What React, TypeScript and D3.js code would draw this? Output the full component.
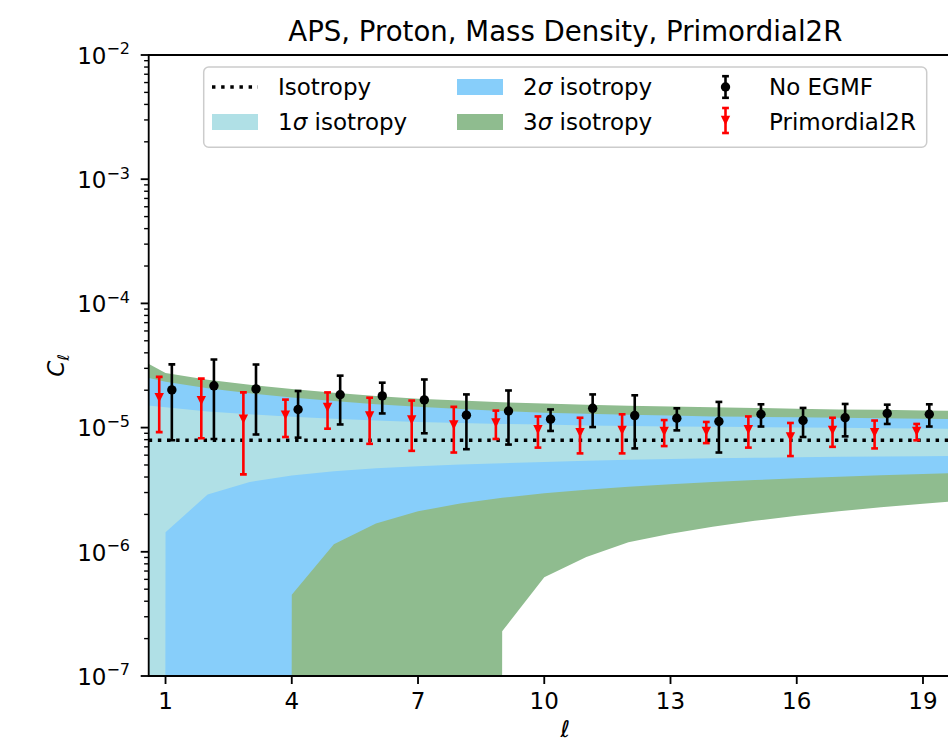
import React from 'react';
import * as d3 from 'd3';

// multipoles of the measured spectra
const ells = [1, 2, 3, 4, 5, 6, 7, 8, 9, 10, 11, 12, 13, 14, 15, 16, 17, 18, 19];

// No EGMF (black), units of 1e-5
const noEgmf = [2.01, 2.17, 2.05, 1.40, 1.84, 1.80, 1.67, 1.26, 1.36, 1.17, 1.43, 1.25, 1.19, 1.12, 1.28, 1.14, 1.20, 1.30, 1.28];
const noEgmfErr = [1.22, 1.36, 1.17, 0.57, 0.78, 0.50, 0.77, 0.59, 0.63, 0.23, 0.42, 0.57, 0.24, 0.49, 0.26, 0.30, 0.35, 0.23, 0.26];

// Primordial2R (red), units of 1e-5
const primordial = [1.74, 1.65, 1.17, 1.26, 1.45, 1.24, 1.15, 1.05, 1.09, 0.96, 0.91, 0.95, 0.93, 0.93, 0.96, 0.84, 0.95, 0.91, 0.93];
const primordialErr = [0.82, 0.83, 0.75, 0.42, 0.47, 0.50, 0.50, 0.42, 0.28, 0.27, 0.29, 0.33, 0.22, 0.18, 0.27, 0.25, 0.25, 0.23, 0.14];

const isotropy = 7.9e-6;

// isotropy bands, l = 0..20
const bandL = [0, 1, 2, 3, 4, 5, 6, 7, 8, 9, 10, 11, 12, 13, 14, 15, 16, 17, 18, 19, 20];
// units of 1e-5
const sigma3Upper = [4.19, 2.75, 2.43, 2.21, 2.05, 1.91, 1.80, 1.71, 1.65, 1.60, 1.56, 1.53, 1.50, 1.48, 1.46, 1.44, 1.42, 1.40, 1.39, 1.37, 1.36];
const sigma2Upper = [2.79, 2.34, 2.07, 1.89, 1.75, 1.64, 1.54, 1.47, 1.41, 1.36, 1.32, 1.29, 1.27, 1.25, 1.23, 1.22, 1.21, 1.20, 1.19, 1.18, 1.17];
const sigma1Upper = [1.57, 1.46, 1.35, 1.28, 1.22, 1.18, 1.14, 1.11, 1.09, 1.07, 1.06, 1.04, 1.03, 1.02, 1.015, 1.01, 1.0, 0.995, 0.99, 0.983, 0.978];
// units of 1e-6 (0 = non-positive, clipped like matplotlib does on a log axis)
const sigma1Lower = [0, 1.44, 2.89, 3.65, 4.11, 4.45, 4.70, 4.88, 5.04, 5.16, 5.28, 5.40, 5.50, 5.60, 5.66, 5.72, 5.77, 5.82, 5.86, 5.89, 5.94];
const sigma2Lower = [0, 0, 0, 0, 0.452, 1.149, 1.687, 2.119, 2.444, 2.721, 2.958, 3.157, 3.337, 3.495, 3.641, 3.778, 3.906, 4.023, 4.129, 4.238, 4.341];
const sigma3Lower = [0, 0, 0, 0, 0, 0, 0, 0, 0, 0.229, 0.623, 0.908, 1.193, 1.396, 1.590, 1.777, 1.949, 2.119, 2.282, 2.434, 2.598];

const xTicks = [1, 4, 7, 10, 13, 16, 19];

const W = 948;
const H = 741;
const left = 148.7;
const right = 981.9;
const top = 55;
const bottom = 676;
const font = 'DejaVu Sans';

const x = d3.scaleLinear().domain([0.6, 20.4]).range([left, right]);
const y = d3.scaleLog().domain([1e-7, 1e-2]).range([bottom, top]);

const clipLog = (v: number) => Math.max(v, 1e-300);

const bandPath = (lo: number[], loUnit: number, hi: number[], hiUnit: number) =>
  d3.area<number>()
    .x(d => x(d))
    .y0((_, i) => y(clipLog(lo[i] * loUnit)))
    .y1((_, i) => y(hi[i] * hiUnit))(bandL) || '';

const ErrBar = ({ cx, v, e, color, marker }: { cx: number; v: number; e: number; color: string; marker: 'o' | 'v' }) => {
  const y0 = y(v - e);
  const y1 = y(v + e);
  const cy = y(v);
  const cap = 3.4;
  const s = 4.7;
  return (
    <g>
      <line x1={cx} x2={cx} y1={y0} y2={y1} stroke={color} strokeWidth={2.6} />
      <line x1={cx - cap} x2={cx + cap} y1={y0} y2={y0} stroke={color} strokeWidth={2.6} />
      <line x1={cx - cap} x2={cx + cap} y1={y1} y2={y1} stroke={color} strokeWidth={2.6} />
      {marker === 'o'
        ? <circle cx={cx} cy={cy} r={s} fill={color} />
        : <path d={`M${cx - s},${cy - s}L${cx + s},${cy - s}L${cx},${cy + s}Z`} fill={color} />}
    </g>
  );
};

const LegendErr = ({ cx, cy, half, color, marker }: { cx: number; cy: number; half: number; color: string; marker: 'o' | 'v' }) => {
  const s = 4.7;
  return (
    <g>
      <line x1={cx} x2={cx} y1={cy - half} y2={cy + half} stroke={color} strokeWidth={2.6} />
      <line x1={cx - 3.4} x2={cx + 3.4} y1={cy - half} y2={cy - half} stroke={color} strokeWidth={2.6} />
      <line x1={cx - 3.4} x2={cx + 3.4} y1={cy + half} y2={cy + half} stroke={color} strokeWidth={2.6} />
      {marker === 'o'
        ? <circle cx={cx} cy={cy} r={s} fill={color} />
        : <path d={`M${cx - s},${cy - s}L${cx + s},${cy - s}L${cx},${cy + s}Z`} fill={color} />}
    </g>
  );
};

export default function App() {
  const yTicks = y.ticks();
  const isMajor = (v: number) => Math.abs(Math.log10(v) - Math.round(Math.log10(v))) < 1e-6;

  return (
    <svg width={W} height={H} style={{ position: 'absolute', left: 0, top: 0, background: '#fff' }} fontFamily={font}>
      <defs>
        <clipPath id="plot">
          <rect x={left} y={top} width={right - left} height={bottom - top} />
        </clipPath>
      </defs>

      <g clipPath="url(#plot)">
        <path d={bandPath(sigma3Lower, 1e-6, sigma3Upper, 1e-5)} fill="#8fbc8f" />
        <path d={bandPath(sigma2Lower, 1e-6, sigma2Upper, 1e-5)} fill="#87cefa" />
        <path d={bandPath(sigma1Lower, 1e-6, sigma1Upper, 1e-5)} fill="#b0e0e6" />
        <line x1={left} x2={right} y1={y(isotropy)} y2={y(isotropy)} stroke="#000" strokeWidth={3.45} strokeDasharray="3.45 5.7" />
        {ells.map((l, i) => (
          <ErrBar key={'b' + l} cx={x(l + 0.15)} v={noEgmf[i] * 1e-5} e={noEgmfErr[i] * 1e-5} color="#000" marker="o" />
        ))}
        {ells.map((l, i) => (
          <ErrBar key={'r' + l} cx={x(l - 0.15)} v={primordial[i] * 1e-5} e={primordialErr[i] * 1e-5} color="#ff0000" marker="v" />
        ))}
      </g>

      {/* spines */}
      <line x1={left} x2={left} y1={top - 0.9} y2={bottom + 0.9} stroke="#000" strokeWidth={1.84} />
      <line x1={left} x2={right} y1={bottom} y2={bottom} stroke="#000" strokeWidth={1.84} />
      <line x1={left} x2={right} y1={top} y2={top} stroke="#000" strokeWidth={1.84} />

      {/* y ticks */}
      {yTicks.map((v, i) => {
        const major = isMajor(v);
        const ty = y(v);
        return (
          <g key={'yt' + i}>
            <line x1={left - (major ? 8 : 4.6)} x2={left} y1={ty} y2={ty} stroke="#000" strokeWidth={major ? 1.84 : 1.4} />
            {major && (
              <text x={130} y={ty + 8.8} textAnchor="end" fontSize={23}>
                10<tspan dy={-9.5} fontSize={16}>{'\u2212' + Math.abs(Math.round(Math.log10(v)))}</tspan>
              </text>
            )}
          </g>
        );
      })}

      {/* x ticks */}
      {xTicks.map(t => (
        <g key={'xt' + t}>
          <line x1={x(t)} x2={x(t)} y1={bottom} y2={bottom + 8} stroke="#000" strokeWidth={1.84} />
          <text x={x(t)} y={709} textAnchor="middle" fontSize={23}>{t}</text>
        </g>
      ))}

      {/* labels */}
      <text x={(left + right) / 2} y={41} textAnchor="middle" fontSize={27.6}>APS, Proton, Mass Density, Primordial2R</text>
      <text x={(left + right) / 2} y={737} textAnchor="middle" fontSize={23} fontStyle="italic">ℓ</text>
      <text transform={`translate(64,${(top + bottom) / 2}) rotate(-90)`} textAnchor="middle" fontSize={23} fontStyle="italic">
        C<tspan dy={5} fontSize={16}>ℓ</tspan>
      </text>

      {/* legend */}
      <g fontSize={23}>
        <rect x={203.7} y={67} width={723} height={80.3} rx={5} fill="#fff" fillOpacity={0.8} stroke="#cccccc" strokeWidth={1.5} />
        <line x1={212} x2={258} y1={87} y2={87} stroke="#000" strokeWidth={3.45} strokeDasharray="3.45 5.7" />
        <text x={278} y={95}>Isotropy</text>
        <rect x={212} y={114} width={46} height={16} fill="#b0e0e6" />
        <text x={278} y={130}>1<tspan fontStyle="italic">σ</tspan> isotropy</text>

        <rect x={457} y={79} width={46} height={16} fill="#87cefa" />
        <text x={523} y={95}>2<tspan fontStyle="italic">σ</tspan> isotropy</text>
        <rect x={457} y={114} width={46} height={16} fill="#8fbc8f" />
        <text x={523} y={130}>3<tspan fontStyle="italic">σ</tspan> isotropy</text>

        <LegendErr cx={725.5} cy={87} half={10.8} color="#000" marker="o" />
        <text x={769} y={95}>No EGMF</text>
        <LegendErr cx={725.5} cy={120.5} half={12.5} color="#ff0000" marker="v" />
        <text x={769} y={130}>Primordial2R</text>
      </g>
    </svg>
  );
}
